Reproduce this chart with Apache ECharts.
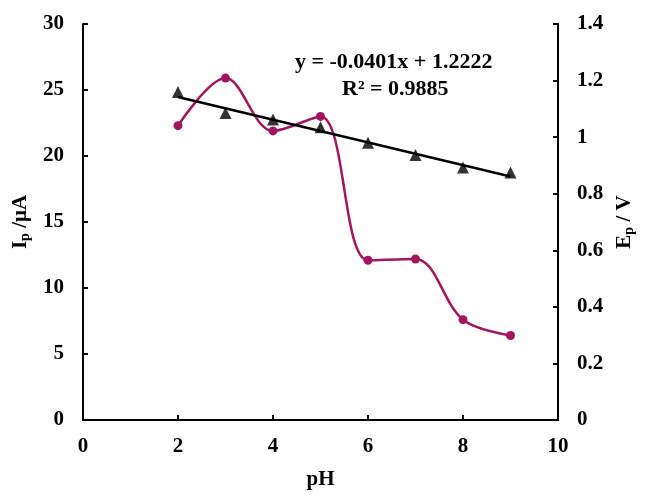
<!DOCTYPE html>
<html>
<head>
<meta charset="utf-8">
<script src="https://cdn.jsdelivr.net/npm/echarts@6/dist/echarts.min.js"></script>
<style>
  html, body { margin: 0; padding: 0; background: #fff; }
</style>
</head>
<body>
<div id="chart" style="width:656px;height:503px;"></div>
<script>
var ph = [2, 3, 4, 5, 6, 7, 8, 9];
var ipValues = [22.3, 25.9, 21.9, 23.0, 12.1, 12.2, 7.6, 6.4];
var epValues = [1.16, 1.085, 1.062, 1.035, 0.98, 0.937, 0.893, 0.875];
var trendX = [2, 9];
var trendY = [1.142, 0.861];

var font = "Liberation Serif";
var chart = echarts.init(document.getElementById("chart"));

function pairs(xs, ys) {
  return xs.map(function (x, i) { return [x, ys[i]]; });
}

var labelStyle = { color: "#000", fontFamily: font, fontWeight: "bold", fontSize: 21 };
var nameRich = {
  m: { color: "#000", fontFamily: font, fontWeight: "bold", fontSize: 21 },
  s: { color: "#000", fontFamily: font, fontWeight: "bold", fontSize: 14, padding: [10, 0, 0, 0] }
};

var axisBase = {
  axisLine: { show: true, lineStyle: { color: "#000", width: 2 } },
  axisTick: { show: true, inside: true, length: 5, lineStyle: { color: "#000", width: 2 } },
  splitLine: { show: false }
};

var option = {
  animation: false,
  grid: { left: 83, right: 98, top: 24, bottom: 83 },
  xAxis: Object.assign({}, axisBase, {
    type: "value",
    min: 0,
    max: 10,
    interval: 2,
    name: "pH",
    nameLocation: "middle",
    nameGap: 49,
    nameTextStyle: labelStyle,
    axisLabel: Object.assign({}, labelStyle, { margin: 16 })
  }),
  yAxis: [
    Object.assign({}, axisBase, {
      type: "value",
      min: 0,
      max: 30,
      interval: 5,
      name: "{m|I}{s|p}{m| /μA}",
      nameLocation: "middle",
      nameRotate: 90,
      nameGap: 41,
      nameTextStyle: { rich: nameRich },
      axisLabel: Object.assign({}, labelStyle, { margin: 19 })
    }),
    Object.assign({}, axisBase, {
      type: "value",
      position: "right",
      min: 0,
      max: 1.4,
      interval: 0.2,
      name: "{m|E}{s|p}{m| / V}",
      nameLocation: "middle",
      nameRotate: 90,
      nameGap: 47,
      nameTextStyle: { rich: nameRich },
      axisLabel: Object.assign({}, labelStyle, {
        margin: 19,
        formatter: function (v) { return String(Math.round(v * 10) / 10); }
      })
    })
  ],
  graphic: [
    {
      type: "text",
      left: 295,
      top: 51,
      style: {
        text: "y = -0.0401x + 1.2222",
        fill: "#000",
        font: "bold 22px 'Liberation Serif'"
      }
    },
    {
      type: "text",
      left: 342,
      top: 78,
      style: {
        text: "R² = 0.9885",
        fill: "#000",
        font: "bold 22px 'Liberation Serif'"
      }
    }
  ],
  series: [
    {
      name: "Ip",
      type: "line",
      yAxisIndex: 0,
      smooth: 0.35,
      data: pairs(ph, ipValues),
      symbol: "circle",
      symbolSize: 9,
      lineStyle: { color: "#A3165F", width: 2.5 },
      itemStyle: { color: "#A3165F" }
    },
    {
      name: "trend",
      type: "line",
      yAxisIndex: 1,
      data: pairs(trendX, trendY),
      symbol: "none",
      lineStyle: { color: "#000", width: 2.5 },
      z: 3
    },
    {
      name: "Ep",
      type: "scatter",
      yAxisIndex: 1,
      data: pairs(ph, epValues),
      symbol: "triangle",
      symbolSize: 12,
      itemStyle: { color: "#000" },
      z: 4
    }
  ]
};

chart.setOption(option);
</script>
</body>
</html>
